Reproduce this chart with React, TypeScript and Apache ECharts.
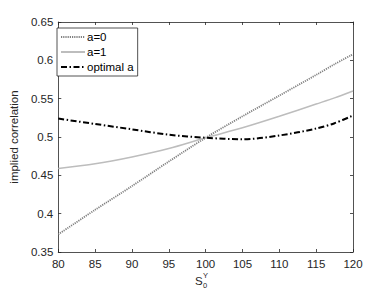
import React, { useEffect, useRef } from "react";
import * as echarts from "echarts";

const xValues = [80, 85, 90, 95, 100, 105, 110, 115, 117.5, 120];
const a0 = [0.373, 0.405, 0.436, 0.468, 0.499, 0.527, 0.554, 0.581, 0.595, 0.608];
const a1 = [0.459, 0.465, 0.474, 0.485, 0.499, 0.512, 0.527, 0.543, 0.551, 0.560];
const optA = [0.524, 0.517, 0.510, 0.503, 0.499, 0.497, 0.502, 0.511, 0.518, 0.528];
const xTicks = [80, 85, 90, 95, 100, 105, 110, 115, 120];
const yTicks = [0.35, 0.4, 0.45, 0.5, 0.55, 0.6, 0.65];

const AX = "#262626";
const FONT = "Liberation Sans, Arial, sans-serif";

export default function App() {
  const ref = useRef<HTMLDivElement>(null);
  useEffect(() => {
    if (!ref.current) return;
    const chart = echarts.init(ref.current, undefined, { renderer: "svg" });
    const pair = (ys: number[]) => xValues.map((x, i) => [x, ys[i]]);
    const axisCommon = {
      type: "value" as const,
      axisLine: { show: true, onZero: false, lineStyle: { color: AX, width: 0.8 } },
      axisTick: { show: true, inside: true, length: 3, lineStyle: { color: AX, width: 0.8 } },
      splitLine: { show: false },
    };
    chart.setOption({
      animation: false,
      backgroundColor: "#ffffff",
      textStyle: { fontFamily: FONT },
      grid: { left: 51, right: 37, top: 22, bottom: 41 },
      legend: {
        left: 57,
        top: 28,
        orient: "vertical",
        itemWidth: 24,
        itemHeight: 12,
        itemGap: 3,
        padding: [3, 4, 3, 3],
        borderColor: AX,
        borderWidth: 0.8,
        backgroundColor: "#ffffff",
        itemStyle: { opacity: 0 },
        textStyle: { fontSize: 11.5, color: "#000", fontFamily: FONT, padding: [0, 0, 0, -3] },
        data: ["a=0", "a=1", "optimal a"],
      },
      xAxis: [
        {
          ...axisCommon,
          min: 80,
          max: 120,
          interval: 5,
          position: "bottom",
          axisLabel: { color: AX, fontSize: 11.5, margin: 6, fontFamily: FONT },
        },
        {
          ...axisCommon,
          min: 80,
          max: 120,
          interval: 5,
          position: "top",
          axisLabel: { show: false },
        },
      ],
      yAxis: [
        {
          ...axisCommon,
          min: 0.35,
          max: 0.65,
          interval: 0.05,
          position: "left",
          axisLabel: {
            color: AX,
            fontSize: 11.5,
            margin: 5,
            fontFamily: FONT,
            formatter: (v: number) => String(parseFloat(v.toFixed(2))),
          },
          name: "implied correlation",
          nameLocation: "middle",
          nameGap: 32,
          nameTextStyle: { color: AX, fontSize: 11.5, fontFamily: FONT },
        },
        {
          ...axisCommon,
          min: 0.35,
          max: 0.65,
          interval: 0.05,
          position: "right",
          axisLabel: { show: false },
        },
      ],
      graphic: [
        { type: "text", x: 195, y: 281, style: { text: "S", fontSize: 11.5, fill: AX, fontFamily: FONT, verticalAlign: "middle" } },
        { type: "text", x: 203, y: 275, style: { text: "Y", fontSize: 7.5, fill: AX, fontFamily: FONT, verticalAlign: "middle" } },
        { type: "text", x: 203, y: 285, style: { text: "0", fontSize: 7.5, fill: AX, fontFamily: FONT, verticalAlign: "middle" } },
      ],
      series: [
        {
          name: "a=0",
          type: "line",
          data: pair(a0),
          showSymbol: false,
          symbol: "none",
          smooth: 0.3,
          lineStyle: { color: "#7f7f7f", width: 1.8, type: [1.2, 1] },
          itemStyle: { color: "#7f7f7f" },
        },
        {
          name: "a=1",
          type: "line",
          data: pair(a1),
          showSymbol: false,
          symbol: "none",
          smooth: 0.3,
          lineStyle: { color: "#bdbdbd", width: 1.5, type: "solid" },
          itemStyle: { color: "#bdbdbd" },
        },
        {
          name: "optimal a",
          type: "line",
          data: pair(optA),
          showSymbol: false,
          symbol: "none",
          smooth: 0.3,
          lineStyle: { color: "#000000", width: 2, type: [6, 2.5, 1.5, 2.5] },
          itemStyle: { color: "#000000" },
        },
      ],
    });
    return () => chart.dispose();
  }, []);
  return (
    <div
      ref={ref}
      style={{ position: "absolute", left: 0, top: 0, width: 390, height: 293 }}
    />
  );
}
